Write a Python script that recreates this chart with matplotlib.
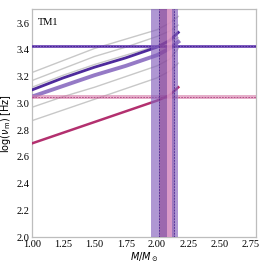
import matplotlib
matplotlib.use("Agg")
import matplotlib.pyplot as plt
import numpy as np

# ---- data ----
mass = [1.0, 1.25, 1.5, 1.75, 2.0, 2.1, 2.17]
gray_tracks = [
    [3.23, 3.32, 3.41, 3.48, 3.55, 3.60, 3.65],
    [3.17, 3.26, 3.35, 3.42, 3.50, 3.54, 3.585],
    [3.12, 3.21, 3.29, 3.36, 3.43, 3.46, 3.49],
    [2.97, 3.05, 3.12, 3.20, 3.28, 3.33, 3.41],
    [2.87, 2.95, 3.03, 3.11, 3.19, 3.24, 3.30],
]
dark_purple_track = [3.10, 3.19, 3.27, 3.34, 3.42, 3.47, 3.53]
light_purple_track = [3.05, 3.13, 3.21, 3.28, 3.36, 3.41, 3.46]
magenta_track = [2.70, 2.78, 2.86, 2.94, 3.02, 3.06, 3.12]

hline_purple = 3.425
hline_purple_err = 0.009
hline_pink = 3.047
hline_pink_err = 0.015

vband_outer = (1.951, 2.167)
vband_dark = (2.018, 2.080)
vband_pink = (2.080, 2.120)
vband_mid = (2.120, 2.143)
vdash = [2.018, 2.138]

xticks = [1.00, 1.25, 1.50, 1.75, 2.00, 2.25, 2.50, 2.75]
yticks = [2.0, 2.2, 2.4, 2.6, 2.8, 3.0, 3.2, 3.4, 3.6]

# ---- figure ----
fig = plt.figure(figsize=(2.66, 2.66), dpi=100)
ax = fig.add_axes([0.120, 0.109, 0.842, 0.857])

for g in gray_tracks:
    ax.plot(mass, g, color="#c8c8c8", lw=1.0, zorder=2)
ax.plot(mass, light_purple_track, color="#8a6cc0", lw=2.8, alpha=0.9, zorder=3)
ax.plot(mass, dark_purple_track, color="#4e2a9c", lw=2.0, zorder=3)
ax.plot(mass, magenta_track, color="#b3306f", lw=1.8, zorder=3)

# horizontal bands
ax.axhspan(hline_purple - hline_purple_err, hline_purple + hline_purple_err,
           color="#6a3fb5", alpha=0.85, lw=0, zorder=4)
ax.axhline(hline_purple, color="#3d1e8a", lw=0.6, ls=(0, (2, 1.5)), zorder=4)
ax.axhspan(hline_pink - hline_pink_err, hline_pink + hline_pink_err,
           color="#d47aa8", alpha=0.6, lw=0, zorder=4)
ax.axhline(hline_pink, color="#b04080", lw=0.6, ls=(0, (2, 1.5)), zorder=4)

# vertical bands
ax.axvspan(*vband_outer, color="#8460bc", alpha=0.65, lw=0, zorder=5)
ax.axvspan(*vband_dark, color="#8b3a8b", alpha=0.5, lw=0, zorder=5)
ax.axvspan(*vband_pink, color="#e89cc4", alpha=0.75, lw=0, zorder=5)
ax.axvspan(*vband_mid, color="#7a3f9a", alpha=0.35, lw=0, zorder=5)
for v in vdash:
    ax.axvline(v, color="#4a2a90", lw=0.6, ls=(0, (2, 1.5)), zorder=6)

ax.set_xlim(1.0, 2.79)
ax.set_ylim(2.0, 3.705)
ax.set_xticks(xticks)
ax.set_xticklabels([f"{t:.2f}" for t in xticks])
ax.set_yticks(yticks)
ax.set_yticklabels([f"{t:.1f}" for t in yticks])
ax.tick_params(length=0, pad=2, labelsize=7.5)
for lab in ax.get_xticklabels() + ax.get_yticklabels():
    lab.set_family("Liberation Serif")

for s in ax.spines.values():
    s.set_color("#bdbdbd")
    s.set_linewidth(0.9)

ax.set_xlabel(r"$M/M_\odot$", fontsize=7, labelpad=1)
ax.set_ylabel(r"$\log(\nu_{\rm m})$ [Hz]", fontsize=7, labelpad=2)
ax.text(1.05, 3.585, "TM1", family="Liberation Serif", fontsize=7.5, zorder=7)

fig.savefig("out.png", dpi=100)
